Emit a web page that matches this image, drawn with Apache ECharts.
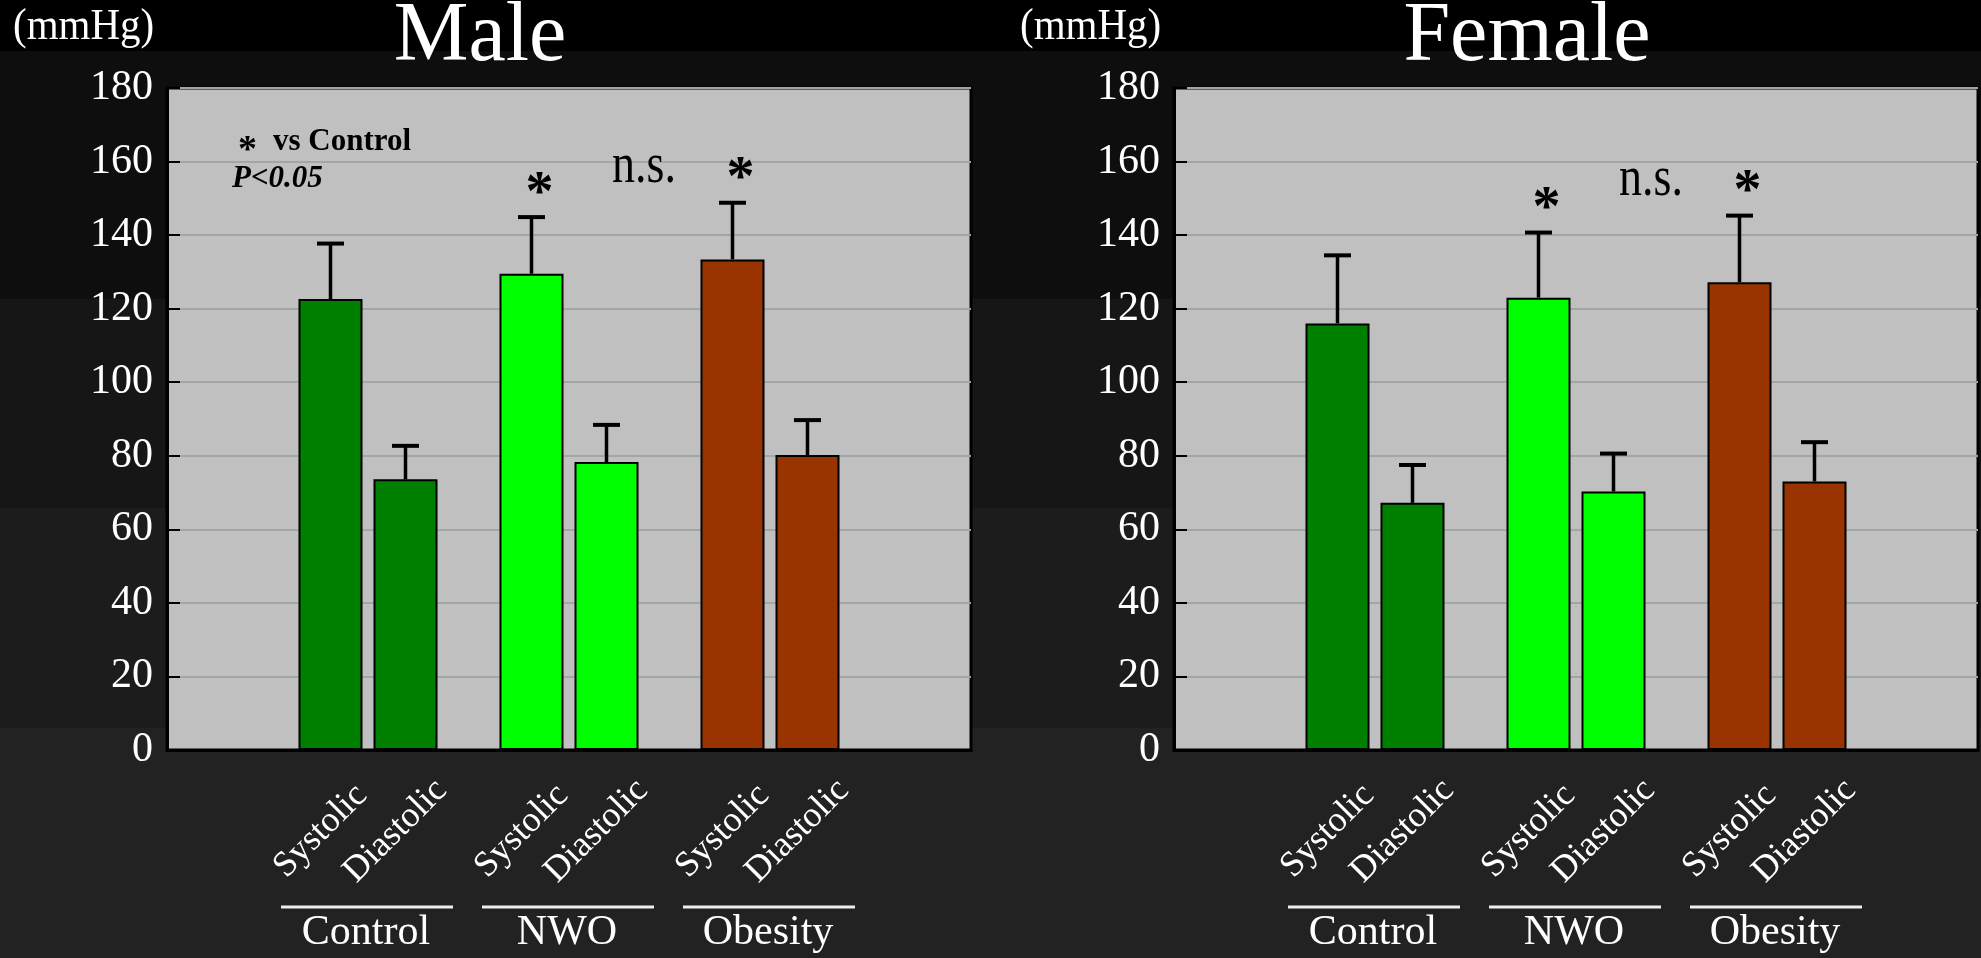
<!DOCTYPE html>
<html>
<head>
<meta charset="utf-8">
<script src="https://cdn.jsdelivr.net/npm/echarts@6/dist/echarts.min.js"></script>
<style>
html,body{margin:0;padding:0;background:#222;}
#chart{width:1981px;height:958px;}
</style>
</head>
<body>
<div id="chart"></div>
<script>
// ---------- data ----------
const groups = ['Control', 'NWO', 'Obesity'];
const barNames = ['Systolic', 'Diastolic'];
const panelTitles = ['Male', 'Female'];
const unitLabel = '(mmHg)';
const yMin = 0, yMax = 180, yStep = 20;

const maleSystolic = [122.6, 129.5, 133.4];
const maleSystolicSD = [15.1, 15.4, 15.4];
const maleDiastolic = [73.6, 78.3, 80.2];
const maleDiastolicSD = [9.1, 10.1, 9.5];

const femaleSystolic = [116.0, 123.0, 127.2];
const femaleSystolicSD = [18.5, 17.7, 18.1];
const femaleDiastolic = [67.2, 70.3, 73.0];
const femaleDiastolicSD = [10.3, 10.3, 10.7];

const systolicVsControl = [false, true, true];   // '*' P<0.05 vs Control
const nsPair = ['NWO', 'Obesity'];               // n.s. between these groups
const legendLine1 = 'vs Control';
const legendLine2 = 'P<0.05';

const groupColors = ['#008000', '#00ff00', '#993300'];

// ---------- layout / style ----------
const FONT = '"Liberation Serif", "Times New Roman", serif';
const BAR_W = 64;
const BAR_GAP_PX = 11;
const HALF = (BAR_W + BAR_GAP_PX) / 2;
const gridBoxes = [
  {left: 167, top: 88, width: 804, height: 662},
  {left: 1174, top: 88, width: 804, height: 662}
];
const panels = [
  {sys: maleSystolic, sysSD: maleSystolicSD, dia: maleDiastolic, diaSD: maleDiastolicSD},
  {sys: femaleSystolic, sysSD: femaleSystolicSD, dia: femaleDiastolic, diaSD: femaleDiastolicSD}
];
const axisCats = [''].concat(groups, [' ']);

function txt(text, size, extra) {
  return Object.assign({text: text, fill: '#fff', fontSize: size, fontFamily: FONT,
    align: 'center', verticalAlign: 'middle', textAlign: 'center', textVerticalAlign: 'middle'}, extra || {});
}

const grids = [], xAxes = [], yAxes = [], series = [];
panels.forEach(function (p, k) {
  grids.push(Object.assign({show: true, backgroundColor: '#c0c0c0', borderColor: '#000', borderWidth: 3,
    containLabel: false, outerBoundsMode: 'none'}, gridBoxes[k]));
  xAxes.push({type: 'category', gridIndex: k, data: axisCats, boundaryGap: false,
    axisLine: {show: true, onZero: false, lineStyle: {color: '#000', width: 3}},
    axisTick: {show: false}, axisLabel: {show: false}, splitLine: {show: false}});
  yAxes.push({type: 'value', gridIndex: k, min: yMin, max: yMax, interval: yStep,
    axisLine: {show: true, lineStyle: {color: '#000', width: 3}},
    axisTick: {show: true, inside: true, length: 13, lineStyle: {color: '#000', width: 2}},
    axisLabel: {color: '#fff', fontSize: 42, fontFamily: FONT, margin: 14},
    splitLine: {show: true, lineStyle: {color: '#a0a7a4', width: 2}}});

  [p.sys, p.dia].forEach(function (vals, s) {
    series.push({type: 'bar', name: barNames[s], xAxisIndex: k, yAxisIndex: k,
      data: ['-'].concat(vals, ['-']), barWidth: BAR_W, barGap: (BAR_GAP_PX / BAR_W * 100) + '%',
      itemStyle: {color: function (pr) { return groupColors[pr.dataIndex - 1]; }, borderColor: '#000', borderWidth: 2},
      emphasis: {disabled: true}, silent: true, z: 2});
  });

  // error bars, rotated bar labels, significance marks, group brackets
  series.push({type: 'custom', xAxisIndex: k, yAxisIndex: k, clip: false, silent: true, z: 4,
    encode: {x: 0, y: 1},
    data: groups.map(function (g, i) {
      return [i + 1, p.sys[i], p.sysSD[i], p.dia[i], p.diaSD[i], systolicVsControl[i] ? 1 : 0];
    }),
    renderItem: function (params, api) {
      const x = api.value(0);
      const base = api.coord([x, 0]);
      const cx = base[0], axisY = base[1];
      const ch = [];
      const items = [[api.value(1), api.value(2), -1, barNames[0]], [api.value(3), api.value(4), 1, barNames[1]]];
      let sysErrY = 0;
      items.forEach(function (it, j) {
        const bx = cx + it[2] * HALF;
        const yTop = api.coord([x, it[0]])[1];
        const yErr = api.coord([x, it[0] + it[1]])[1];
        if (j === 0) sysErrY = yErr;
        ch.push({type: 'line', shape: {x1: bx, y1: yTop, x2: bx, y2: yErr}, style: {stroke: '#000', lineWidth: 3.5}});
        ch.push({type: 'line', shape: {x1: bx - 13.5, y1: yErr, x2: bx + 13.5, y2: yErr}, style: {stroke: '#000', lineWidth: 4}});
        ch.push({type: 'text', x: bx - 10, y: axisY + 81, rotation: Math.PI / 4,
          style: txt(it[3], 36)});
      });
      if (api.value(5)) {
        ch.push({type: 'text', x: cx - HALF + 8, y: sysErrY - 22,
          style: txt('*', 56, {fill: '#000', fontWeight: 'bold'})});
      }
      ch.push({type: 'line', shape: {x1: cx - 87, y1: axisY + 157, x2: cx + 85, y2: axisY + 157},
        style: {stroke: '#eeeeee', lineWidth: 3}});
      ch.push({type: 'text', x: cx - 2, y: axisY + 183, style: txt(groups[x - 1], 42)});
      return {type: 'group', children: ch};
    }
  });

  // n.s. annotation
  series.push({type: 'custom', xAxisIndex: k, yAxisIndex: k, clip: false, silent: true, z: 4,
    encode: {x: 0, y: 1},
    data: [[groups.indexOf(nsPair[0]) + 1, groups.indexOf(nsPair[1]) + 1]],
    renderItem: function (params, api) {
      const a = api.value(0), b = api.value(1);
      const ia = a - 1, ib = b - 1;
      const xa = api.coord([a, 0])[0] - HALF, xb = api.coord([b, 0])[0] - HALF;
      const ya = api.coord([a, p.sys[ia] + p.sysSD[ia]])[1];
      const yb = api.coord([b, p.sys[ib] + p.sysSD[ib]])[1];
      return {type: 'text', x: (xa + xb) / 2 + 12, y: Math.min(ya, yb) - 36, scaleY: 1.25,
        style: txt('n.s.', 46, {fill: '#000'})};
    }
  });
});

const graphics = [];
panelTitles.forEach(function (t, k) {
  graphics.push({type: 'text', x: [480, 1527][k], y: 38, silent: true, style: txt(t, 84)});
  graphics.push({type: 'text', x: [13, 1020][k], y: 27, silent: true, scaleY: 1.1,
    style: txt(unitLabel, 41, {align: 'left', textAlign: 'left'})});
});
graphics.push({type: 'text', x: 238, y: 151, silent: true,
  style: txt('*', 38, {fill: '#000', fontWeight: 'bold', align: 'left', textAlign: 'left'})});
graphics.push({type: 'text', x: 273, y: 142, silent: true,
  style: txt(legendLine1, 31, {fill: '#000', fontWeight: 'bold', align: 'left', textAlign: 'left'})});
graphics.push({type: 'text', x: 232, y: 179, silent: true,
  style: txt(legendLine2, 31, {fill: '#000', fontWeight: 'bold', fontStyle: 'italic', align: 'left', textAlign: 'left'})});

const bg = new echarts.graphic.LinearGradient(0, 0, 0, 1, [
  {offset: 0, color: '#000000'}, {offset: 0.0532, color: '#000000'},
  {offset: 0.0533, color: '#0e0e0e'}, {offset: 0.312, color: '#0e0e0e'},
  {offset: 0.3121, color: '#161616'}, {offset: 0.530, color: '#161616'},
  {offset: 0.5301, color: '#1c1c1c'}, {offset: 0.760, color: '#1c1c1c'},
  {offset: 0.7601, color: '#222222'}, {offset: 1, color: '#222222'}
]);

const chart = echarts.init(document.getElementById('chart'), null, {renderer: 'canvas'});
chart.setOption({
  backgroundColor: bg,
  animation: false,
  grid: grids,
  xAxis: xAxes,
  yAxis: yAxes,
  series: series,
  graphic: {elements: graphics}
});
</script>
</body>
</html>
